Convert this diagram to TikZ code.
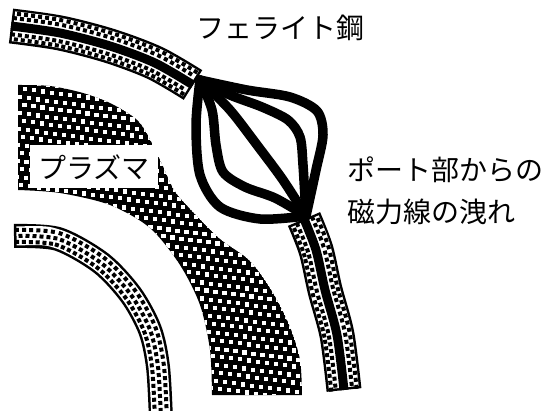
\documentclass[tikz,border=0pt]{standalone}
\usepackage{fontspec}
\newfontfamily\jp{Noto Sans CJK JP}
\usetikzlibrary{decorations.markings}

% dots across the steel band and the inner wall, placed in the frame of the path
\newcommand\ferritedots{%
  \fill (-2pt,6.2pt) rectangle (2pt,10.2pt);
  \fill (1.5pt,10.8pt) rectangle (5.5pt,14.8pt);
  \fill (-2pt,-10.2pt) rectangle (2pt,-6.2pt);
  \fill (1.5pt,-14.8pt) rectangle (5.5pt,-10.8pt);}
\newcommand\innerdots{%
  \fill (-2pt,-8pt) rectangle (2pt,-4pt);
  \fill (1.5pt,-2pt) rectangle (5.5pt,2pt);
  \fill (-2pt,4pt) rectangle (2pt,8pt);}

% center lines of the walls
\newcommand\upperwall{plot[smooth] coordinates {(11,26) (60,33) (110,46) (155,63) (193,85)}}
\newcommand\lowerwall{plot[smooth] coordinates {(304,219) (316,250) (325,290) (337,335) (344,390)}}
\newcommand\innerwall{plot[smooth] coordinates {(14,236) (58,239) (101,263) (131,295) (150,330) (158,367) (161,420)}}
% outline of the plasma column
\newcommand\plasmaoutline{plot[smooth] coordinates {(18,85) (50,86) (83,93)
    (112,104) (140,123) (160,160) (174,190) (192,211) (220,239) (250,261)
    (273,293) (290,327) (300,360) (302,395)}
  -- plot[smooth] coordinates {(212,395) (210,350) (200,305) (180,265)
    (150,228) (110,205) (60,193) (18,190)} -- cycle}

\tikzset{
  band/.style={line width=#1},
  bandfill/.style={white, line width=#1, shorten <=2.5pt, shorten >=2.5pt},
  dotrow/.style={decorate, decoration={markings,
      mark=between positions 3pt and -3pt step 7pt with {#1}}},
  coreline/.style={line width=9pt},
  fieldline/.style={line width=9.5pt, line join=round, line cap=round},
  jptext/.style={font=\jp\fontsize{28}{42}\selectfont, inner sep=0pt},
}

\begin{document}
\begin{tikzpicture}[x=1pt, y=-1pt]
  \useasboundingbox (0,0) rectangle (553,411);

  % plasma: black with white dots in staggered rows
  \begin{scope}
    \clip \plasmaoutline;
    \fill \plasmaoutline;
    \foreach \j in {0,...,40} {
      \foreach \i in {0,...,34} {
        \fill[white] ({12+9*\i+4.5*mod(\j,2)-0.35*\j},{80+8*\j+1.2*\i})
          ++(-2.1,-2.1) rectangle ++(4.2,4.2);
      }
    }
  \end{scope}

  % inner wall
  \draw[band=24pt] \innerwall;
  \draw[bandfill=19pt] \innerwall;
  \path[dotrow=\innerdots] \innerwall;

  % ferrite steel, broken by the port
  \foreach \w in {\upperwall,\lowerwall} {
    \draw[band=35pt] \w;
    \draw[bandfill=30pt] \w;
    \path[dotrow=\ferritedots] \w;
    \draw[coreline] \w;
  }

  % field lines leaking through the port
  \coordinate (portA) at (200,80);
  \coordinate (portB) at (306,216);
  \draw[fieldline] plot[smooth] coordinates {(portA) (247,90) (290,97)
    (317,111) (323,135) (316,170) (portB)};
  \draw[fieldline] plot[smooth] coordinates {(portA) (230,95) (262,107)
    (288,120) (300,137) (303,165) (portB)};
  \draw[fieldline] plot[smooth] coordinates {(portA) (230,110) (257,145)
    (283,180) (portB)};
  \draw[fieldline] plot[smooth] coordinates {(portA) (212,110) (216,145)
    (223,172) (245,187) (275,198) (portB)};
  \draw[fieldline] plot[smooth] coordinates {(portA) (196,125) (200,175)
    (220,207) (260,219) (portB)};

  \node[jptext] (steel) at (280,28) {フェライト鋼};
  \node[jptext, anchor=west, align=left] (leak) at (347,191)
    {ポート部からの\\磁力線の洩れ};
  \node[jptext, fill=white, minimum width=128pt, minimum height=43pt]
    (plasma) at (94,167) {プラズマ};
\end{tikzpicture}
\end{document}
